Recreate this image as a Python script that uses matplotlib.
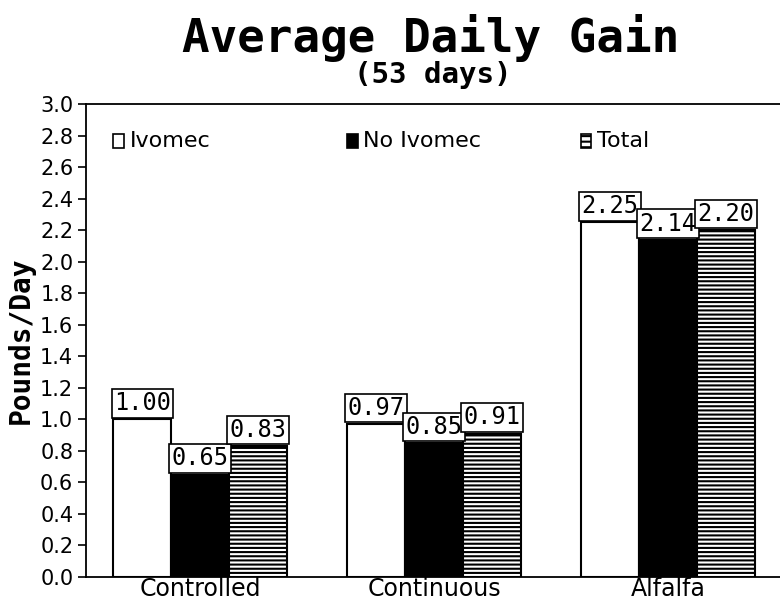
import matplotlib
matplotlib.use("Agg")
import matplotlib.pyplot as plt
import numpy as np
from matplotlib.patches import Rectangle

categories = ["Controlled", "Continuous", "Alfalfa"]
series_names = ["Ivomec", "No Ivomec", "Total"]
ivomec = [1.00, 0.97, 2.25]
no_ivomec = [0.65, 0.85, 2.14]
total = [0.83, 0.91, 2.20]
yticks = [0.0, 0.2, 0.4, 0.6, 0.8, 1.0, 1.2, 1.4, 1.6, 1.8, 2.0, 2.2, 2.4, 2.6, 2.8, 3.0]

plt.rcParams['hatch.linewidth'] = 1.5

fig = plt.figure(figsize=(7.8, 6.02), dpi=100)
ax = fig.add_axes([0.110, 0.0415, 0.89, 0.7855])

mono = "DejaVu Sans Mono"
x = np.arange(len(categories))
w = 0.248
styles = [dict(facecolor="white", hatch=None),
          dict(facecolor="black", hatch=None),
          dict(facecolor="white", hatch="----")]
data = [ivomec, no_ivomec, total]
for i, (vals, st) in enumerate(zip(data, styles)):
    xs = x + (i - 1) * w
    ax.bar(xs, vals, width=w, color=st["facecolor"], edgecolor="black",
           linewidth=1.5, hatch=st["hatch"], zorder=2)
    for xb, v in zip(xs, vals):
        ax.annotate(f"{v:.2f}", (xb, v), xytext=(0, 3), textcoords="offset points",
                    ha="center", va="bottom", fontsize=17, family=mono,
                    bbox=dict(boxstyle="square,pad=0.1", facecolor="white",
                              edgecolor="black", linewidth=1.2), zorder=4)

# legend-like entries at top aligned with each group's first bar
for i, name in enumerate(series_names):
    lx = x[i] - 1.5 * w
    st = styles[i]
    r = Rectangle((lx, 2.72), 0.045, 0.09, facecolor=st["facecolor"], edgecolor="black",
                  linewidth=1.2, hatch=("---" if st["hatch"] else None), zorder=3)
    ax.add_patch(r)
    ax.text(lx + 0.07, 2.765, name, fontsize=16, va="center", ha="left", family="DejaVu Sans")

ax.set_xlim(-0.49, 2.48)
ax.set_ylim(0, 3.0)
ax.set_yticks(yticks)
ax.set_yticklabels([f"{t:.1f}" for t in yticks], fontsize=15)
ax.set_xticks(x)
ax.set_xticklabels(categories, fontsize=17)
ax.tick_params(axis="x", length=0, pad=0)
ax.tick_params(axis="y", direction="out", length=6, width=1.2, pad=3)
ax.spines["right"].set_visible(False)
for s in ["left", "bottom", "top"]:
    ax.spines[s].set_linewidth(1.3)

ax.set_ylabel("Pounds/Day", fontsize=20, fontweight="bold", family=mono, labelpad=4)

fig.text(0.552, 0.937, "Average Daily Gain", ha="center", va="center",
         fontsize=33, fontweight="bold", family=mono)
fig.text(0.555, 0.875, "(53 days)", ha="center", va="center",
         fontsize=21, fontweight="bold", family=mono)

fig.savefig("out.png", dpi=100)
